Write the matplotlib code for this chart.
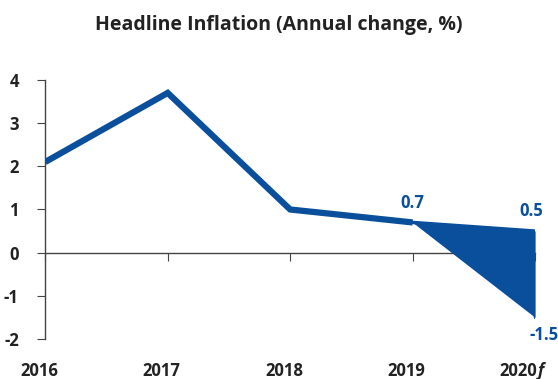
import matplotlib
matplotlib.use("Agg")
import matplotlib.pyplot as plt
import matplotlib.transforms as mtransforms

years = ["2016", "2017", "2018", "2019", "2020f"]
actual = [2.1, 3.7, 1.0, 0.7]
fan_high = [0.7, 0.5]
fan_low = [0.7, -1.5]
yticks = [-2, -1, 0, 1, 2, 3, 4]

blue = "#0a4f9c"
dark = "#222222"
plt.rcParams['font.family'] = ['Open Sans', 'DejaVu Sans']

fig = plt.figure(figsize=(5.58, 3.79), dpi=100)
ax = fig.add_axes([0.081, 0.1055, 0.878, 0.6835])

x = list(range(len(years)))
ax.plot(x[:4], actual, color=blue, lw=4.5, solid_joinstyle='miter', solid_capstyle='butt', zorder=3)
ax.fill_between(x[3:], fan_low, fan_high, color=blue, lw=0, zorder=3)
ax.plot(x[3:], fan_high, color=blue, lw=2.5, zorder=3)
ax.plot([x[4], x[4]], [fan_low[1], fan_high[1]], color=blue, lw=2.5, solid_capstyle='round', zorder=3)

ax.set_xlim(0, 4)
ax.set_ylim(-2, 4)
ax.spines['top'].set_visible(False)
ax.spines['right'].set_visible(False)
ax.spines['bottom'].set_position(('data', 0))
for s in ['left', 'bottom']:
    ax.spines[s].set_color('#444444')
    ax.spines[s].set_linewidth(1.0)
ax.set_yticks(yticks)
ax.set_yticklabels([str(v) for v in yticks], fontsize=12, fontweight='bold', color=dark)
ax.tick_params(axis='y', length=6, color='#444444', pad=13)
ax.set_xticks(x)
ax.set_xticklabels([])
ax.tick_params(axis='x', length=6, color='#444444', direction='out')

trans = mtransforms.blended_transform_factory(ax.transData, fig.transFigure)
for i, lab in enumerate(years):
    if lab.endswith('f'):
        ax.text(i + 0.02, 0.022, lab[:-1], transform=trans, ha='right', va='center',
                fontsize=12, fontweight='bold', color=dark)
        ax.text(i + 0.02, 0.022, 'f', transform=trans, ha='left', va='center',
                fontsize=12, fontweight='bold', style='italic', color=dark)
    else:
        ax.text(i - 0.05, 0.022, lab, transform=trans, ha='center', va='center',
                fontsize=12, fontweight='bold', color=dark)

ax.text(x[3], actual[3] + 0.25, "0.7", ha='center', va='bottom', fontsize=12,
        fontweight='bold', color=blue)
ax.text(x[4] - 0.03, fan_high[1] + 0.25, "0.5", ha='center', va='bottom', fontsize=12,
        fontweight='bold', color=blue)
ax.text(x[4] + 0.07, fan_low[1] - 0.2, "-1.5", ha='center', va='top', fontsize=12,
        fontweight='bold', color=blue, clip_on=False)

fig.text(0.5, 0.934, "Headline Inflation (Annual change, %)", ha='center', va='center',
         fontsize=14, fontweight='bold', color=dark)

fig.savefig("out.png", dpi=100)
